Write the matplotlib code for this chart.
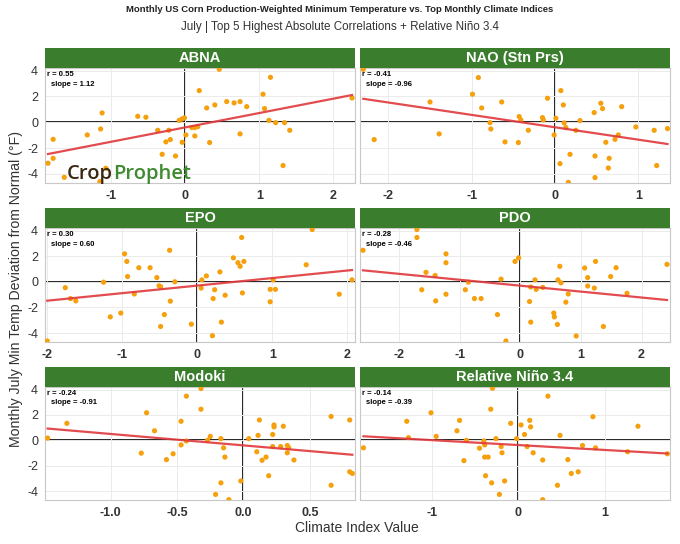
import matplotlib
matplotlib.use("Agg")
import matplotlib.pyplot as plt
import numpy as np

plt.rcParams['font.family'] = ['Liberation Sans', 'DejaVu Sans']

TITLE = "Monthly US Corn Production-Weighted Minimum Temperature vs. Top Monthly Climate Indices"
SUBTITLE = "July | Top 5 Highest Absolute Correlations + Relative Niño 3.4"

PANELS = ["ABNA", "NAO (Stn Prs)", "EPO", "PDO", "Modoki", "Relative Niño 3.4"]
R_TEXT = ["r = 0.55", "r = -0.41", "r = 0.30", "r = -0.28", "r = -0.24", "r = -0.14"]
SLOPE_TEXT = ["slope = 1.12", "slope = -0.96", "slope = 0.60", "slope = -0.46", "slope = -0.91", "slope = -0.39"]

abna_x = [-1.85, -1.78, -1.78, -1.63, -1.32, -1.14, -1.12, -1.07, -1.15, -0.64, -0.53, -0.37,
          -0.22, -0.26, -0.20, -0.31, -0.13, -0.08, -0.04, -0.01, -0.04, 0.01, 0.09, 0.13,
          0.17, 0.13, 0.19, 0.29, 0.33, 0.40, 0.46, 0.56, 0.66, 0.74, 0.74, 0.83, 1.05,
          1.07, 1.15, 1.13, 1.22, 1.34, 1.41, 1.32, 2.25]
abna_y = [-3.17, -1.32, -2.79, -4.26, -0.98, -0.52, 0.72, -3.56, -4.59, 0.46, 0.39, -0.62,
          -0.62, -1.52, -1.34, -2.48, -2.61, 0.15, 0.26, 0.34, -1.55, -0.98, -0.41, -0.41,
          -0.34, -1.06, 2.45, 1.11, -1.57, 1.34, 4.10, 1.60, 1.50, 1.60, -0.90, 1.21, 2.17,
          1.06, 3.48, 0.15, -0.03, -0.03, -0.62, -3.35, 1.88]

nao_x = [-2.30, -2.17, -1.50, -1.39, -0.99, -0.92, -0.88, -0.78, -0.77, -0.64, -0.60, -0.44,
         -0.43, -0.41, -0.32, -0.15, -0.14, -0.09, -0.01, 0.01, 0.07, 0.06, 0.10, 0.11,
         0.13, 0.18, 0.16, 0.25, 0.30, 0.47, 0.48, 0.48, 0.55, 0.57, 0.61, 0.64, 0.65,
         0.72, 0.76, 0.80, 0.97, 1.19, 1.22, 1.35]
nao_y = [4.10, -1.34, 1.57, -0.90, 2.17, 3.46, 1.11, -0.03, -0.52, 1.57, -1.52, -1.57,
         0.44, 0.18, -0.62, 0.36, 0.18, 1.86, -0.98, 0.31, 2.45, -3.20, 1.34, -0.05,
         -0.41, -2.48, -4.65, -0.62, 0.13, 0.75, -2.61, -4.28, 1.47, 1.06, -1.55, -3.54, -2.79,
         -1.32, -0.98, 1.21, -0.36, -0.62, -3.35, -0.49]

epo_x = [-2.00, -1.76, -1.69, -1.62, -1.25, -1.16, -1.02, -0.97, -0.94, -0.93, -0.84, -0.78,
         -0.63, -0.54, -0.51, -0.49, -0.49, -0.44, -0.37, -0.36, -0.30, -0.08, 0.05, 0.06,
         0.12, 0.21, 0.23, 0.20, 0.30, 0.32, 0.37, 0.48, 0.54, 0.57, 0.59, 0.60, 0.62,
         0.97, 0.97, 1.01, 1.04, 1.45, 1.53, 1.89, 2.06]
epo_y = [-4.62, -0.46, -1.31, -1.49, -0.03, -2.74, -2.44, 2.18, 1.59, 0.41, -0.95, 1.10,
         1.10, 0.33, -0.31, -0.38, -3.49, -2.56, 2.46, -1.51, 0.00, -3.31, -0.49, 0.15,
         0.46, -1.31, -0.62, -4.21, 0.77, -3.15, -1.05, 1.87, 1.49, 1.21, 3.46, -0.87, 1.59,
         -0.59, -1.56, 0.15, -0.59, 1.33, 4.08, -0.97, 0.15]

pdo_x = [-2.60, -1.71, -1.71, -1.63, -1.56, -1.41, -1.40, -1.23, -1.23, -1.23, -0.91, -0.86,
         -0.76, -0.65, -0.38, -0.32, -0.24, -0.09, -0.03, 0.15, 0.17, 0.17, 0.24, 0.26,
         0.37, 0.55, 0.56, 0.61, 0.62, 0.65, 0.67, 0.75, 0.79, 0.92, 1.06, 1.11, 1.11,
         1.22, 1.24, 1.37, 1.49, 1.58, 1.76, 2.42]
pdo_y = [2.46, 4.08, 3.46, -0.62, 0.74, 0.49, -1.49, 2.18, 1.49, -0.97, -0.62, -0.03,
         -1.31, -1.31, -2.56, 0.21, -4.62, 1.59, 1.87, -1.54, -0.41, -3.15, 0.15, -0.59,
         -0.44, -2.44, -2.74, -3.33, 0.15, 1.21, -0.08, -1.59, -0.95, -4.23, 1.08, 0.33, -0.33,
         -0.49, 1.59, -3.49, 0.41, 1.10, -0.90, 1.36]

modoki_x = [-1.475, -1.33, -0.73, -0.77, -0.67, -0.58, -0.53, -0.47, -0.47, -0.43, -0.43, -0.32,
            -0.32, -0.27, -0.25, -0.17, -0.15, -0.14, -0.17, -0.21, -0.11, -0.02, 0.04, 0.10,
            0.11, 0.12, 0.14, 0.17, 0.19, 0.22, 0.22, 0.23, 0.23, 0.28, 0.30, 0.33, 0.34,
            0.33, 0.38, 0.66, 0.66, 0.80, 0.80, 0.82]
modoki_y = [0.18, 1.34, 2.17, -1.01, 0.75, -1.52, -1.06, 1.50, -0.36, 3.48, -0.05, 4.08,
            2.45, 0.00, 0.31, 0.13, -0.59, -1.32, -3.35, -4.26, -4.67, -3.20, 0.13, -0.90,
            0.39, 1.60, -1.57, -1.32, -2.79, 0.46, -0.49, 1.21, 1.06, -0.49, 1.11, -0.41, -0.57,
            -0.98, -1.55, 1.88, -3.54, 1.60, -2.48, -2.61]

nino_x = [-1.79, -1.29, -1.27, -1.01, -0.95, -0.71, -0.68, -0.63, -0.60, -0.45, -0.40, -0.39,
          -0.39, -0.35, -0.38, -0.32, -0.31, -0.30, -0.26, -0.20, -0.19, -0.16, -0.22, -0.09,
          -0.02, 0.03, 0.07, 0.10, 0.13, 0.14, 0.17, 0.28, 0.28, 0.34, 0.45, 0.48, 0.57,
          0.61, 0.69, 0.74, 0.86, 0.89, 1.26, 1.38, 1.72]
nino_y = [-0.59, 1.50, 0.21, 2.17, 0.31, 0.75, 1.57, -1.60, 0.00, -0.62, -0.05, -0.36,
          -1.32, -1.32, -2.79, 2.45, -3.35, 4.10, 0.13, -0.49, -0.98, -3.20, -4.26, 1.34,
          0.13, 1.21, 0.46, -0.49, 1.57, 1.06, -0.98, -1.55, -4.67, 3.48, -3.54, 0.39, -1.52,
          -2.61, -2.48, -0.41, 1.86, -0.59, -0.90, 1.11, -1.06]

XS = [abna_x, nao_x, epo_x, pdo_x, modoki_x, nino_x]
YS = [abna_y, nao_y, epo_y, pdo_y, modoki_y, nino_y]
XLIMS = [(-1.89, 2.29), (-2.34, 1.38), (-2.03, 2.10), (-2.65, 2.47), (-1.495, 0.84), (-1.83, 1.75)]
XTICKS = [[-1, 0, 1, 2], [-2, -1, 0, 1], [-2, -1, 0, 1, 2], [-2, -1, 0, 1, 2],
          [-1.0, -0.5, 0.0, 0.5], [-1, 0, 1]]
YLIM = (-4.7, 4.2)
YTICKS = [-4, -2, 0, 2, 4]

W, H = 680, 544
GREEN = "#3a7d2c"
ORANGE = "#f5a00c"
RED = "#e0383c"

fig = plt.figure(figsize=(W / 100, H / 100), dpi=100)


def px_axes(l, t, r, b):
    return fig.add_axes([l / W, 1 - b / H, (r - l) / W, (b - t) / H])


cols = [(45, 355), (360, 670)]
rows = [(48, 68, 183), (208, 228, 342), (367, 387, 500)]

for i, name in enumerate(PANELS):
    (l, r) = cols[i % 2]
    (st, pt, pb) = rows[i // 2]

    ax = px_axes(l, pt, r, pb)
    x = np.array(XS[i])
    y = np.array(YS[i])
    ax.grid(True, color="#ebebeb", lw=0.7, zorder=0)
    ax.axhline(0, color="black", lw=1.2, zorder=1)
    ax.axvline(0, color="black", lw=1.2, zorder=1)
    ax.scatter(x, y, s=14, color=ORANGE, edgecolors="none", zorder=3)
    k, b = np.polyfit(x, y, 1)
    xx = np.array([x.min(), x.max()])
    ax.plot(xx, k * xx + b, color=RED, lw=1.6, alpha=0.9, zorder=4)

    ax.set_xlim(*XLIMS[i])
    ax.set_ylim(*YLIM)
    ax.set_xticks(XTICKS[i])
    ax.set_yticks(YTICKS)
    ax.set_xticklabels([f"{t:g}" if i != 4 else f"{t:.1f}" for t in XTICKS[i]],
                       fontsize=9, fontweight="bold", color="#333333")
    if i % 2 == 0:
        ax.set_yticklabels([str(t) for t in YTICKS], fontsize=9, color="#333333")
    else:
        ax.set_yticklabels([])
    ax.tick_params(length=0, pad=5)
    for s in ax.spines.values():
        s.set_color("#c8c8c8")
        s.set_linewidth(0.8)

    ax.text(0.008, 0.975, R_TEXT[i], transform=ax.transAxes, fontsize=5.5,
            fontweight="bold", ha="left", va="top", color="black", zorder=5)
    ax.text(0.02, 0.89, SLOPE_TEXT[i], transform=ax.transAxes, fontsize=5.5,
            fontweight="bold", ha="left", va="top", color="black", zorder=5)

    sax = px_axes(l, st, r, pt)
    sax.set_facecolor(GREEN)
    sax.set_xticks([])
    sax.set_yticks([])
    for s in sax.spines.values():
        s.set_visible(False)
    sax.text(0.5, 0.5, name, transform=sax.transAxes, ha="center", va="center",
             color="white", fontsize=10.5, fontweight="bold")

fig.text(0.5, 1 - 10 / H, TITLE, ha="center", va="center", fontsize=6.8,
         fontweight="bold", color="#222222")
fig.text(0.5, 1 - 27 / H, SUBTITLE, ha="center", va="center", fontsize=8.4,
         color="#333333")
fig.text(16 / W, 1 - 289 / H, "Monthly July Min Temp Deviation from Normal (°F)",
         rotation=90, ha="center", va="center", fontsize=10.2, color="#333333")
fig.text(357 / W, 1 - 528 / H, "Climate Index Value", ha="center", va="center",
         fontsize=10, color="#333333")

# logo
logo_crop = fig.text(67 / W, 1 - 179 / H, "Crop", ha="left", va="baseline",
                     fontsize=14.5, color="#3b2812", family="Open Sans", fontweight="semibold")
fig.canvas.draw()
bb = logo_crop.get_window_extent()
fig.text(bb.x1 / W, 1 - 179 / H, "Prophet", ha="left", va="baseline",
         fontsize=14.5, color="#3e8a2f", family="Open Sans", fontweight="semibold")

fig.savefig("out.png", dpi=100)
